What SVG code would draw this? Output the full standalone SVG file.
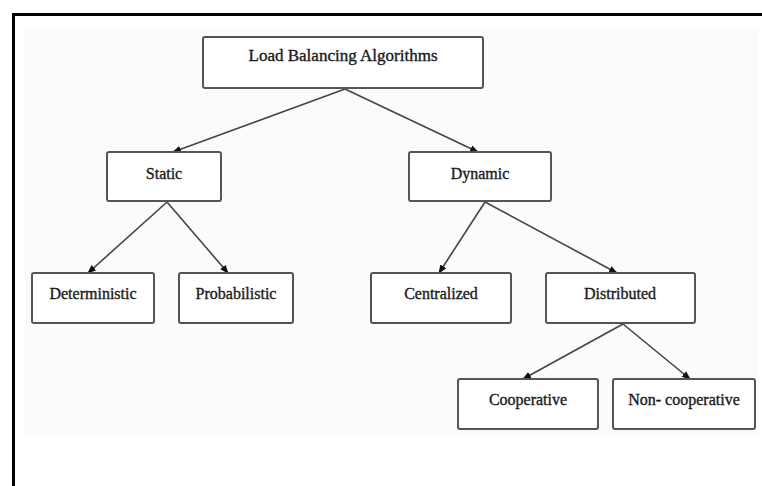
<svg xmlns="http://www.w3.org/2000/svg" width="762" height="486" viewBox="0 0 762 486">
<defs>
<marker id="ah" viewBox="0 0 10 10" refX="9" refY="5" markerWidth="5.5" markerHeight="5.5" orient="auto" markerUnits="strokeWidth">
<path d="M0,1 L10,5 L0,9 Z" fill="#111"/>
</marker>
</defs>
<style>
.box{fill:#fff;stroke:#555;stroke-width:2}
.lbl{font-family:"Liberation Serif","Times New Roman",serif;font-size:16px;fill:#1a1a1a;stroke:#1a1a1a;stroke-width:0.35;text-anchor:middle}
.edge{stroke:#444;stroke-width:1.6;fill:none;marker-end:url(#ah)}
</style>
<rect x="0" y="0" width="762" height="486" fill="#fff"/>
<rect x="25" y="30" width="733" height="406" fill="#fbfbfb"/>
<path d="M13.5 486 V14.5 H762" fill="none" stroke="#000" stroke-width="3"/>
<g id="connectors">
<line class="edge" x1="345" y1="89" x2="173" y2="152"/>
<line class="edge" x1="345" y1="89" x2="478" y2="152"/>
<line class="edge" x1="167" y1="202" x2="88" y2="273"/>
<line class="edge" x1="167" y1="202" x2="228" y2="273"/>
<line class="edge" x1="485" y1="202" x2="439" y2="273"/>
<line class="edge" x1="485" y1="202" x2="617" y2="273"/>
<line class="edge" x1="623" y1="324" x2="523" y2="379"/>
<line class="edge" x1="623" y1="324" x2="690" y2="379"/>
</g>
<g id="n-root"><rect class="box" x="203" y="37" width="280" height="51" rx="2"/><text class="lbl" x="343" y="61" textLength="189" lengthAdjust="spacingAndGlyphs">Load Balancing Algorithms</text></g>
<g id="n-static"><rect class="box" x="107" y="152" width="114" height="49" rx="2"/><text class="lbl" x="164" y="179">Static</text></g>
<g id="n-dynamic"><rect class="box" x="409" y="152" width="142" height="49" rx="2"/><text class="lbl" x="480" y="179">Dynamic</text></g>
<g id="n-deterministic"><rect class="box" x="32" y="273" width="122" height="50" rx="2"/><text class="lbl" x="93" y="299">Deterministic</text></g>
<g id="n-probabilistic"><rect class="box" x="179" y="273" width="114" height="50" rx="2"/><text class="lbl" x="236" y="299">Probabilistic</text></g>
<g id="n-centralized"><rect class="box" x="371" y="273" width="140" height="50" rx="2"/><text class="lbl" x="441" y="299">Centralized</text></g>
<g id="n-distributed"><rect class="box" x="546" y="273" width="149" height="50" rx="2"/><text class="lbl" x="620" y="299">Distributed</text></g>
<g id="n-cooperative"><rect class="box" x="458" y="379" width="140" height="50" rx="2"/><text class="lbl" x="528" y="405">Cooperative</text></g>
<g id="n-noncooperative"><rect class="box" x="613" y="379" width="142" height="50" rx="2"/><text class="lbl" x="684" y="405">Non- cooperative</text></g>
</svg>
